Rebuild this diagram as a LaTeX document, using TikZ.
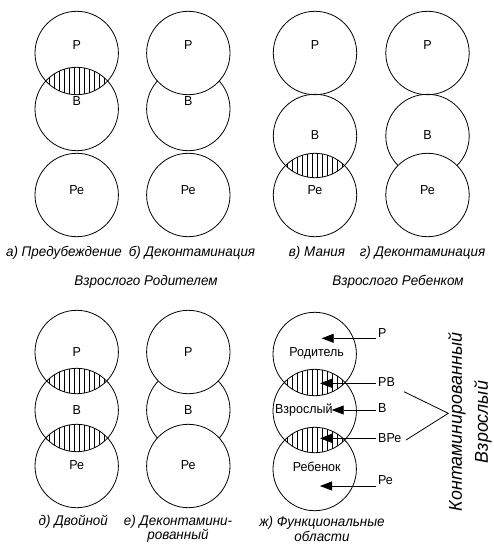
\documentclass[tikz,border=0pt]{standalone}
\usepackage{fontspec}
\setmainfont{Liberation Sans}[FakeStretch=0.96]
\usetikzlibrary{arrows.meta,positioning}
\tikzstyle{ego}=[circle,draw,line width=0.8pt,minimum size=83.4pt,inner sep=0pt]
\tikzstyle{cover}=[ego,fill=white]
\tikzstyle{tag}=[font=\fontsize{13}{13}\selectfont,inner sep=0pt]
\tikzstyle{area}=[tag,inner sep=2pt]
\tikzstyle{subcap}=[font=\fontsize{14}{14.5}\selectfont\itshape,align=center,inner sep=0pt]
\tikzstyle{rot}=[font=\fontsize{18.6}{26}\selectfont\itshape,align=center,rotate=90,inner sep=0pt]
\tikzstyle{hatch}=[line width=0.7pt]
\tikzstyle{post}=[-{Triangle[length=12pt,width=9pt]},line width=0.8pt]
% hatched overlap of two circles: x, y of upper, y of lower
\newcommand{\lens}[3]{%
  \begin{scope}
    \clip (#1,#2) circle[radius=41.7pt];
    \clip (#1,#3) circle[radius=41.7pt];
    \foreach \dx in {-27.5,-22.5,...,27.5}
      \draw[hatch] (#1+\dx,#2) -- (#1+\dx,#3);
  \end{scope}}

\begin{document}
\begin{tikzpicture}[x=1pt,y=-1pt]
\useasboundingbox (0,0) rectangle (493,551);

% top row
\lens{76.7}{53}{109}
\node[ego] (aP)  at (76.7,53)  {};
\node[ego] (aB)  at (76.7,109) {};
\node[ego] (aPe) at (76.7,195) {};

\node[ego]   (bB)  at (188.3,109) {};
\node[cover] (bP)  at (188.3,53)  {};
\node[ego]   (bPe) at (188.3,195) {};

\lens{315}{136}{195}
\node[ego] (cP)  at (315,53)  {};
\node[ego] (cB)  at (315,136) {};
\node[ego] (cPe) at (315,195) {};

\node[ego]   (dB)  at (427.5,136) {};
\node[cover] (dPe) at (427.5,195) {};
\node[ego]   (dP)  at (427.5,53)  {};

\foreach \c/\x/\yb in {a/76.7/101.5, b/188.3/101.5, c/315/135, d/427.5/135} {
  \node[tag] (\c Pt)  at (\x,45)  {Р};
  \node[tag] (\c Bt)  at (\x,\yb) {В};
  \node[tag] (\c Pet) at (\x,190) {Ре};
}

\node[subcap] (capa) at (64,253.3)    {а) Предубеждение};
\node[subcap] (capb) at (192,253.3)   {б) Деконтаминация};
\node[subcap] (capc) at (317,253.3)   {в) Мания};
\node[subcap] (capd) at (422.5,253.3) {г) Деконтаминация};
\node[subcap] (capab) at (146,281.7)  {Взрослого Родителем};
\node[subcap] (capcd) at (398,281.7)  {Взрослого Ребенком};

% bottom row
\lens{76.7}{352}{410}
\lens{76.7}{410}{466}
\node[ego] (eP)  at (76.7,352) {};
\node[ego] (eB)  at (76.7,410) {};
\node[ego] (ePe) at (76.7,466) {};

\node[ego]   (fB)  at (188.3,410) {};
\node[cover] (fP)  at (188.3,352) {};
\node[cover] (fPe) at (188.3,466) {};

\foreach \c/\x in {e/76.7, f/188.3} {
  \node[tag] (\c Pt)  at (\x,352) {Р};
  \node[tag] (\c Bt)  at (\x,410) {В};
  \node[tag] (\c Pet) at (\x,465) {Ре};
}

\lens{314.7}{354}{411}
\lens{314.7}{411}{469}
\node[ego] (gP)  at (314.7,354) {};
\node[ego] (gB)  at (314.7,411) {};
\node[ego] (gPe) at (314.7,469) {};

\node[tag] (par) at (316.7,353.3) {Родитель};
\node[tag] (adu) at (303.8,410)   {Взрослый};
\node[tag] (chi) at (316.7,466.7) {Ребенок};

% functional areas
\node[area,anchor=west] (rP)   at (376,333) {Р};
\node[area,anchor=west] (rPB)  at (376,382) {РВ};
\node[area,anchor=west] (rB)   at (376,408) {В};
\node[area,anchor=west] (rBPe) at (376,438) {ВРе};
\node[area,anchor=west] (rPe)  at (376,480) {Ре};
\coordinate (tP)   at (321.7,338.3);
\coordinate (tPB)  at (320,383.3);
\coordinate (tB)   at (331.7,410);
\coordinate (tBPe) at (320,438.3);
\coordinate (tPe)  at (320,486);
\foreach \r in {P,PB,B,BPe,Pe}
  \draw[post] (r\r.west |- t\r) -- (t\r);

\coordinate (brA)  at (404,391.7);
\coordinate (brB)  at (406,440);
\coordinate (apex) at (448.3,413.3);
\draw[line width=0.8pt] (brA) -- (apex) -- (brB);
\node[rot] (contam) at (470,422) {Контаминированный\\Взрослый};

\node[subcap] (cape) at (73.3,521.7) {д) Двойной};
\node[subcap] (capf) at (178,529)    {е) Деконтамини-\\рованный};
\node[subcap] (capg) at (322,529)    {ж) Функциональные\\области};

\end{tikzpicture}
\end{document}
